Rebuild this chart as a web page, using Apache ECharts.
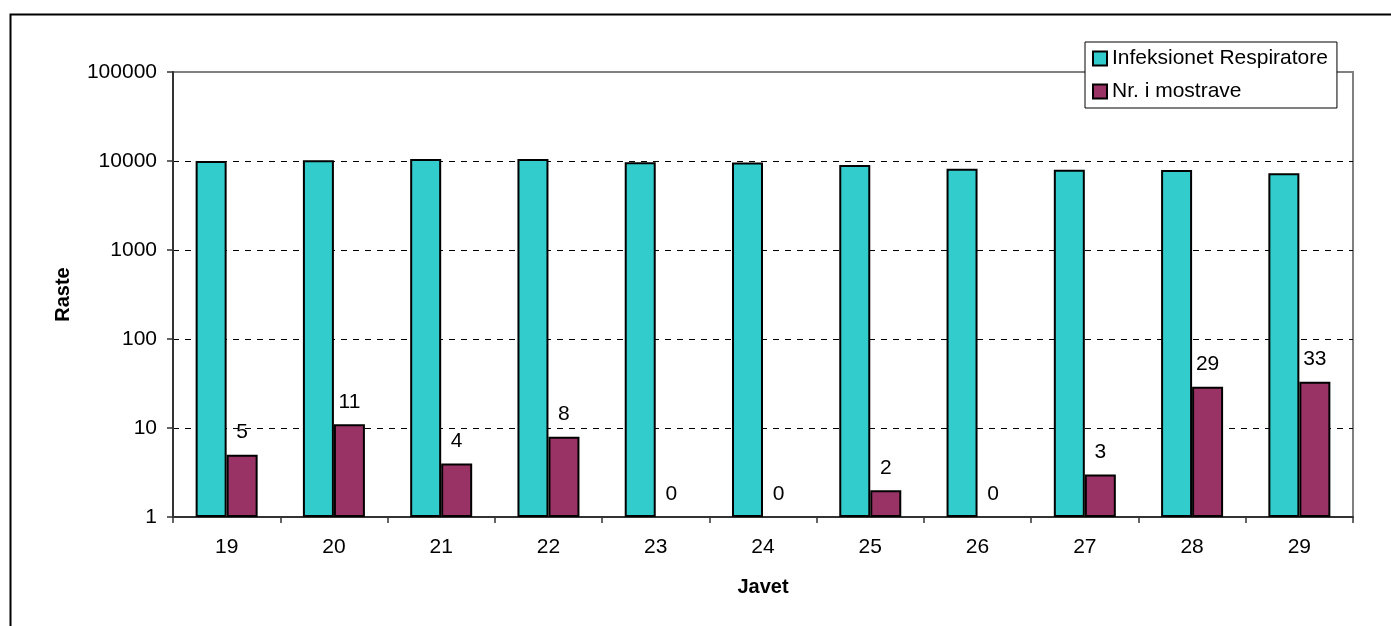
<!DOCTYPE html>
<html>
<head>
<meta charset="utf-8">
<script src="https://cdn.jsdelivr.net/npm/echarts@6/dist/echarts.min.js"></script>
<style>
html,body{margin:0;padding:0;background:#fff;}
#chart{width:1391px;height:626px;}
</style>
</head>
<body>
<div id="chart"></div>
<script>
const weeks = ['19','20','21','22','23','24','25','26','27','28','29'];
const infeksionet = [10000, 10200, 10500, 10500, 9700, 9600, 9000, 8200, 8000, 7900, 7300];
const mostrave = [5, 11, 4, 8, 0, 0, 2, 0, 3, 29, 33];
const yTicks = [1, 10, 100, 1000, 10000, 100000];

const FONT = '"Liberation Sans", Arial, sans-serif';
const chart = echarts.init(document.getElementById('chart'), null, {renderer: 'canvas'});

const mostraveData = mostrave.map(v => v > 0 ? {value: v} : {value: 1, itemStyle: {borderWidth: 0, color: 'transparent'}});

chart.setOption({
  animation: false,
  backgroundColor: '#fff',
  textStyle: {fontFamily: FONT},
  graphic: [{
    type: 'rect', left: 8, top: 12, silent: true,
    shape: {width: 1420, height: 700},
    style: {fill: 'none', stroke: '#000', lineWidth: 2}
  }],
  legend: {
    left: 1085, top: 42, orient: 'vertical',
    backgroundColor: '#fff', borderColor: '#000', borderWidth: 1,
    padding: [6, 9, 6, 7], itemGap: 12,
    itemWidth: 14, itemHeight: 14, icon: 'rect',
    textStyle: {fontSize: 21, color: '#000', fontFamily: FONT},
    data: ['Infeksionet Respiratore', 'Nr. i mostrave']
  },
  grid: {
    left: 173, right: 38, top: 72, bottom: 109,
    show: true, borderColor: '#808080', borderWidth: 2, backgroundColor: 'transparent'
  },
  xAxis: {
    type: 'category', data: weeks,
    name: 'Javet', nameLocation: 'middle', nameGap: 60,
    nameTextStyle: {fontSize: 20, fontWeight: 'bold', color: '#000', fontFamily: FONT},
    axisLine: {lineStyle: {color: '#333', width: 2}},
    axisTick: {show: true, length: 6, lineStyle: {color: '#333', width: 1.5}},
    axisLabel: {fontSize: 21, color: '#000', margin: 20, fontFamily: FONT}
  },
  yAxis: {
    type: 'log', logBase: 10, min: yTicks[0], max: yTicks[yTicks.length - 1],
    name: 'Raste', nameLocation: 'middle', nameGap: 100, nameRotate: 90,
    nameTextStyle: {fontSize: 20, fontWeight: 'bold', color: '#000', fontFamily: FONT},
    axisLine: {show: true, lineStyle: {color: '#333', width: 2}},
    axisTick: {show: true, length: 6, lineStyle: {color: '#333', width: 1.5}},
    axisLabel: {fontSize: 21, color: '#000', margin: 16, fontFamily: FONT,
      formatter: v => String(Math.round(v))},
    splitLine: {show: true, lineStyle: {
      color: ['transparent', '#000', '#000', '#000', '#000', 'transparent'],
      type: [6, 6], width: 1}}
  },
  series: [
    {
      name: 'Infeksionet Respiratore', type: 'bar', data: infeksionet,
      barWidth: 31, barGap: '0%',
      itemStyle: {color: '#33CCCC', borderColor: '#000', borderWidth: 2}
    },
    {
      name: 'Nr. i mostrave', type: 'bar', data: mostraveData,
      barWidth: 31, barGap: '0%',
      itemStyle: {color: '#993366', borderColor: '#000', borderWidth: 2},
      label: {
        show: true, position: 'top', distance: 12, fontSize: 21, color: '#000', fontFamily: FONT,
        formatter: p => String(mostrave[p.dataIndex])
      }
    }
  ]
});
</script>
</body>
</html>
